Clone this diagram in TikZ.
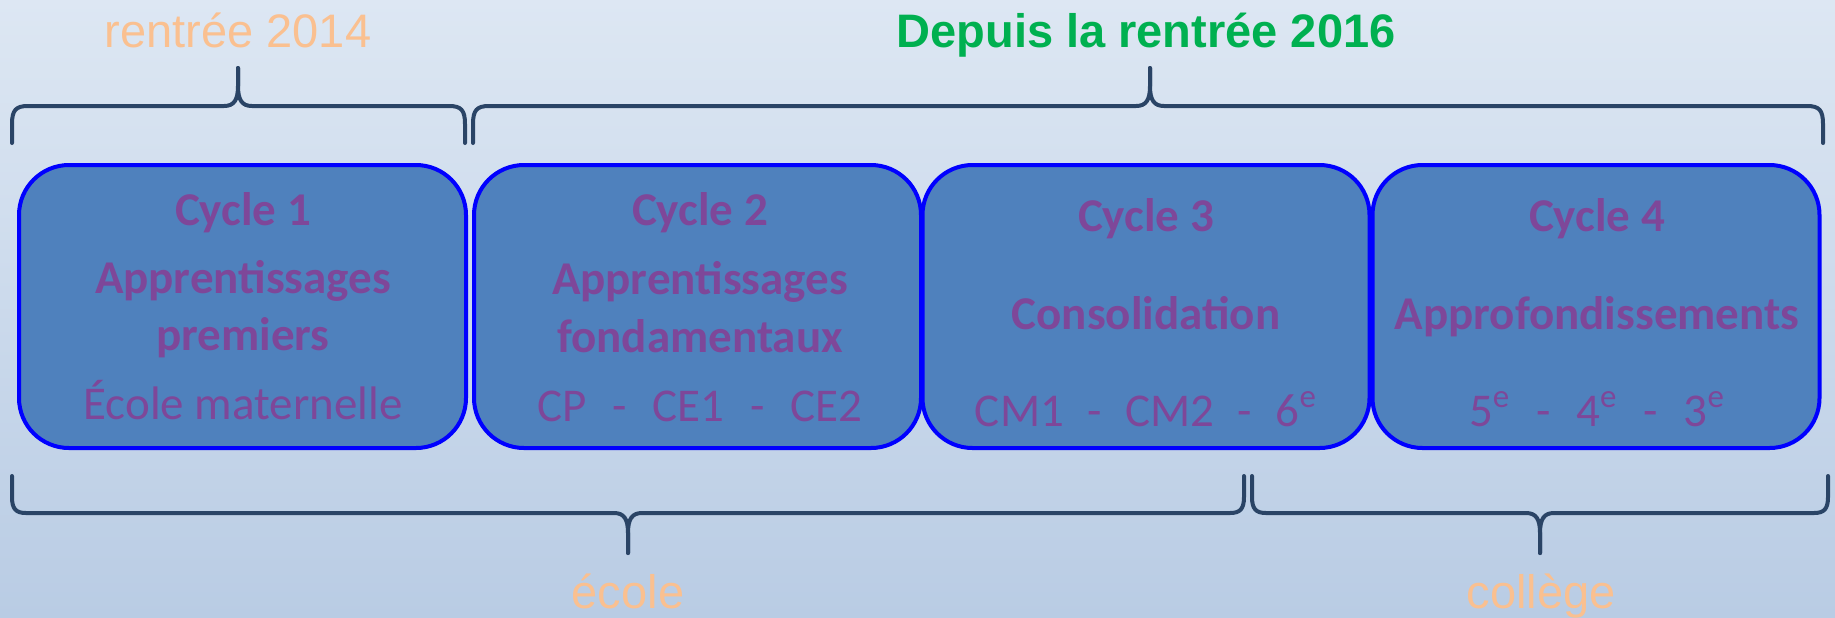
\documentclass[tikz,border=0pt]{standalone}
\usepackage{fontspec}
\setmainfont{Liberation Sans}
\newfontfamily\calib{Carlito}
\definecolor{bgtop}{HTML}{DDE7F3}
\definecolor{bgbot}{HTML}{B9CCE4}
\definecolor{boxfill}{HTML}{4F81BD}
\definecolor{boxline}{HTML}{0000FF}
\definecolor{txtpurple}{HTML}{7E4799}
\definecolor{peach}{HTML}{FAC090}
\definecolor{titlegreen}{HTML}{00B050}
\definecolor{bracecol}{HTML}{2A4466}
\newcommand\TopBrace[3]{%
  \draw[bracestyle] (#1,143) -- (#1,124) .. controls (#1,110) and ({#1+4},106) .. ({#1+16},106)
    -- ({#3-14},106) .. controls ({#3-4},106) and (#3,100) .. (#3,86) -- (#3,68);
  \draw[bracestyle] (#2,143) -- (#2,124) .. controls (#2,110) and ({#2-4},106) .. ({#2-16},106)
    -- ({#3+14},106) .. controls ({#3+4},106) and (#3,100) .. (#3,86) -- (#3,68);
}
\newcommand\BotBrace[3]{%
  \draw[bracestyle] (#1,476) -- (#1,497) .. controls (#1,509) and ({#1+4},513) .. ({#1+14},513)
    -- ({#3-14},513) .. controls ({#3-4},513) and (#3,519) .. (#3,533) -- (#3,553);
  \draw[bracestyle] (#2,476) -- (#2,497) .. controls (#2,509) and ({#2-4},513) .. ({#2-14},513)
    -- ({#3+14},513) .. controls ({#3+4},513) and (#3,519) .. (#3,533) -- (#3,553);
}
\begin{document}
\begin{tikzpicture}[x=0.5pt,y=-0.5pt,
  bracestyle/.style={draw=bracecol, line width=2pt, line cap=round, line join=round},
  cyclebox/.style={draw=boxline, line width=2pt, fill=boxfill, rounded corners=25pt,
    minimum width=223.5pt, minimum height=141.5pt, inner sep=0pt},
  boldtxt/.style={font=\calib\bfseries\fontsize{23.5}{28}\selectfont, text=txtpurple, anchor=base, inner sep=0pt},
  normtxt/.style={font=\calib\fontsize{23.5}{28}\selectfont, text=txtpurple, anchor=base, inner sep=0pt},
  peachtxt/.style={font=\fontsize{23.5}{28}\selectfont, text=peach, anchor=base, inner sep=0pt},
  greentxt/.style={font=\bfseries\fontsize{23.5}{28}\selectfont, text=titlegreen, anchor=base, inner sep=0pt}]
\useasboundingbox (0,0) rectangle (1835,617);
\shade[top color=bgtop, bottom color=bgbot] (0,0) rectangle (1835,617);

% titles
\node[peachtxt] (t2014) at (238,47) {rentrée 2014};
\node[greentxt] (t2016) at (1146,47) {Depuis la rentrée 2016};
\node[peachtxt] (tecole) at (628,608) {école};
\node[peachtxt] (tcollege) at (1541,608) {collège};

% braces
\TopBrace{12}{465}{238}
\TopBrace{473}{1823}{1150}
\BotBrace{12}{1244}{628}
\BotBrace{1252}{1828}{1540}

% boxes
\node[cyclebox] (c1) at (242.5,306.5) {};
\node[cyclebox] (c2) at (697.5,306.5) {};
\node[cyclebox] (c3) at (1146,306.5) {};
\node[cyclebox] (c4) at (1596,306.5) {};

% box 1
\node[boldtxt] (c1a) at (243,225) {Cycle 1};
\node[boldtxt] (c1b) at (243,293) {Apprentissages};
\node[boldtxt] (c1c) at (243,350) {premiers};
\node[normtxt] (c1d) at (243,419) {École maternelle};
% box 2
\node[boldtxt] (c2a) at (700,225) {Cycle 2};
\node[boldtxt] (c2b) at (700,294) {Apprentissages};
\node[boldtxt] (c2c) at (700,352) {fondamentaux};
\node[normtxt] (c2d) at (700,421) {CP\hspace{0.55em}-\hspace{0.55em}CE1\hspace{0.55em}-\hspace{0.55em}CE2};
% box 3
\node[boldtxt] (c3a) at (1146,231) {Cycle 3};
\node[boldtxt] (c3b) at (1146,329) {Consolidation};
\node[normtxt] (c3d) at (1146,426) {CM1\hspace{0.5em}-\hspace{0.5em}CM2\hspace{0.5em}-\hspace{0.5em}6\textsuperscript{e}};
% box 4
\node[boldtxt] (c4a) at (1597,231) {Cycle 4};
\node[boldtxt] (c4b) at (1597,329) {Approfondissements};
\node[normtxt] (c4d) at (1597,426) {5\textsuperscript{e}\hspace{0.55em}-\hspace{0.55em}4\textsuperscript{e}\hspace{0.55em}-\hspace{0.55em}3\textsuperscript{e}};
\end{tikzpicture}
\end{document}
